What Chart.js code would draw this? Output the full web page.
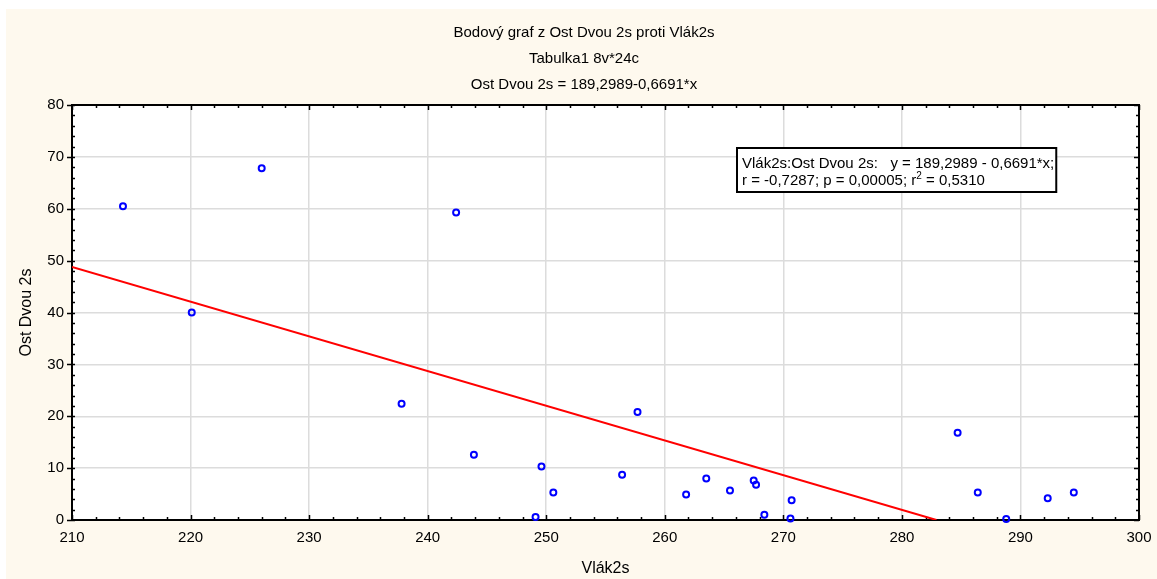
<!DOCTYPE html>
<html>
<head>
<meta charset="utf-8">
<script src="https://cdn.jsdelivr.net/npm/chart.js@4/dist/chart.umd.min.js"></script>
<style>
html, body { margin: 0; padding: 0; background: #fff; }
</style>
</head>
<body>
<canvas id="canvas-1" width="1157" height="579"></canvas>
<script>
// data
var vlak2s = [214.3, 220.1, 226.0, 237.8, 242.4, 243.9, 249.1, 249.6, 250.6, 256.4, 257.7, 261.8,
  263.5, 265.5, 267.5, 267.7, 268.4, 270.6, 270.7, 284.7, 286.4, 288.8, 292.3, 294.5];
var ostDvou2s = [60.5, 40.0, 67.8, 22.4, 59.3, 12.6, 0.6, 10.3, 5.3, 8.7, 20.8, 4.9,
  8.0, 5.7, 7.6, 6.8, 1.0, 0.3, 3.8, 16.8, 5.3, 0.2, 4.2, 5.3];
var xRange = [210, 300];
var yRange = [0, 80];

// fitted line as printed on the chart
var fitIntercept = 189.2989;
var fitSlope = -0.6691;

var titleLines = ['Bodový graf z Ost Dvou 2s proti Vlák2s', 'Tabulka1 8v*24c', 'Ost Dvou 2s = 189,2989-0,6691*x'];
var statsLine1 = 'Vlák2s:Ost Dvou 2s:   y = 189,2989 - 0,6691*x;';
var statsLine2 = ['r = -0,7287; p = 0,00005; r', '2', ' = 0,5310'];

var FONT = "'Liberation Sans', Arial, sans-serif";

var points = vlak2s.map(function (x, i) { return { x: x, y: ostDvou2s[i] }; });
var fitLine = [
  { x: xRange[0], y: fitIntercept + fitSlope * xRange[0] },
  { x: -fitIntercept / fitSlope, y: 0 }
];

var statPlugin = {
  id: 'statPlugin',
  beforeDraw: function (chart) {
    var ctx = chart.ctx, ca = chart.chartArea;
    ctx.save();
    ctx.fillStyle = '#ffffff';
    ctx.fillRect(0, 0, chart.width, chart.height);
    ctx.fillStyle = '#fef9ee';
    ctx.fillRect(6, 9, chart.width - 6, chart.height - 9);
    ctx.fillStyle = '#ffffff';
    ctx.fillRect(ca.left, ca.top, ca.right - ca.left, ca.bottom - ca.top);
    ctx.restore();
  },
  beforeDatasetsDraw: function (chart) {
    var ctx = chart.ctx, ca = chart.chartArea;
    var xs = chart.scales.x, ys = chart.scales.y;
    ctx.save();
    ctx.strokeStyle = '#000';
    ctx.lineWidth = 1.5;
    ctx.beginPath();
    var v, p, len;
    for (v = xRange[0]; v <= xRange[1]; v += 2) {
      p = Math.round(xs.getPixelForValue(v)) + 0.5;
      len = (v % 10 === 0) ? 5 : 3;
      ctx.moveTo(p, ca.bottom); ctx.lineTo(p, ca.bottom - len);
      ctx.moveTo(p, ca.top); ctx.lineTo(p, ca.top + len);
    }
    for (v = yRange[0]; v <= yRange[1]; v += 2) {
      p = Math.round(ys.getPixelForValue(v)) + 0.5;
      var major = v % 10 === 0;
      len = major ? 5 : 3;
      ctx.moveTo(ca.left - (major ? 5 : 0), p); ctx.lineTo(ca.left + 3, p);
      ctx.moveTo(ca.right, p); ctx.lineTo(ca.right - len, p);
    }
    ctx.stroke();
    ctx.lineWidth = 2;
    ctx.strokeRect(ca.left, ca.top, ca.right - ca.left, ca.bottom - ca.top);
    ctx.restore();
  },
  afterDraw: function (chart) {
    var ctx = chart.ctx, ca = chart.chartArea;
    ctx.save();
    ctx.fillStyle = '#000';
    ctx.font = '15px ' + FONT;
    ctx.textAlign = 'center';
    ctx.textBaseline = 'alphabetic';
    var base = [37, 63, 89];
    titleLines.forEach(function (t, i) { ctx.fillText(t, 584, base[i]); });

    // stats box
    var bx = ca.left + 665, by = ca.top + 43;
    ctx.textAlign = 'left';
    var w1 = ctx.measureText(statsLine1).width;
    var bw = w1 + 7, bh = 44;
    ctx.fillStyle = '#fff';
    ctx.fillRect(bx, by, bw, bh);
    ctx.strokeStyle = '#000';
    ctx.lineWidth = 2;
    ctx.strokeRect(bx, by, bw, bh);
    ctx.fillStyle = '#000';
    ctx.fillText(statsLine1, bx + 5, by + 20);
    var tx = bx + 5, ty = by + 37;
    ctx.fillText(statsLine2[0], tx, ty);
    tx += ctx.measureText(statsLine2[0]).width;
    ctx.font = '10px ' + FONT;
    ctx.fillText(statsLine2[1], tx, ty - 6);
    tx += ctx.measureText(statsLine2[1]).width;
    ctx.font = '15px ' + FONT;
    ctx.fillText(statsLine2[2], tx, ty);
    ctx.restore();
  }
};

var scatterChart = new Chart(document.getElementById('canvas-1'), {
  type: 'scatter',
  data: {
    datasets: [{
      label: 'Ost Dvou 2s',
      data: points,
      showLine: false,
      pointStyle: 'circle',
      pointRadius: 3,
      pointBorderWidth: 2,
      pointBorderColor: '#0000ff',
      pointBackgroundColor: 'rgba(0,0,0,0)',
      clip: false
    }, {
      label: 'fit',
      type: 'line',
      data: fitLine,
      borderColor: '#ff0000',
      borderWidth: 2,
      pointRadius: 0,
      fill: false
    }]
  },
  options: {
    responsive: false,
    animation: false,
    devicePixelRatio: 1,
    layout: { padding: { top: 105, right: 18, left: 0, bottom: 0 } },
    plugins: {
      legend: { display: false },
      tooltip: { enabled: false },
      title: { display: false }
    },
    scales: {
      x: {
        type: 'linear',
        min: xRange[0],
        max: xRange[1],
        afterFit: function (s) { s.height = 59; },
        ticks: {
          stepSize: 10,
          color: '#000',
          padding: 0,
          maxRotation: 0,
          font: { family: FONT, size: 15, lineHeight: 2.4 }
        },
        grid: { color: '#dcdcdc', lineWidth: 1.5, drawTicks: false },
        border: { display: false },
        title: {
          display: true,
          text: 'Vlák2s',
          color: '#000',
          font: { family: FONT, size: 16 },
          padding: { top: 0, bottom: 1 }
        }
      },
      y: {
        type: 'linear',
        min: yRange[0],
        max: yRange[1],
        afterFit: function (s) { s.width = 72; },
        ticks: {
          stepSize: 10,
          color: '#000',
          padding: 8,
          font: { family: FONT, size: 15 }
        },
        grid: { color: '#dcdcdc', lineWidth: 1.5, drawTicks: false },
        border: { display: false },
        title: {
          display: true,
          text: 'Ost Dvou 2s',
          color: '#000',
          font: { family: FONT, size: 16 },
          padding: { top: 17, bottom: 0 }
        }
      }
    }
  },
  plugins: [statPlugin]
});
</script>
</body>
</html>
